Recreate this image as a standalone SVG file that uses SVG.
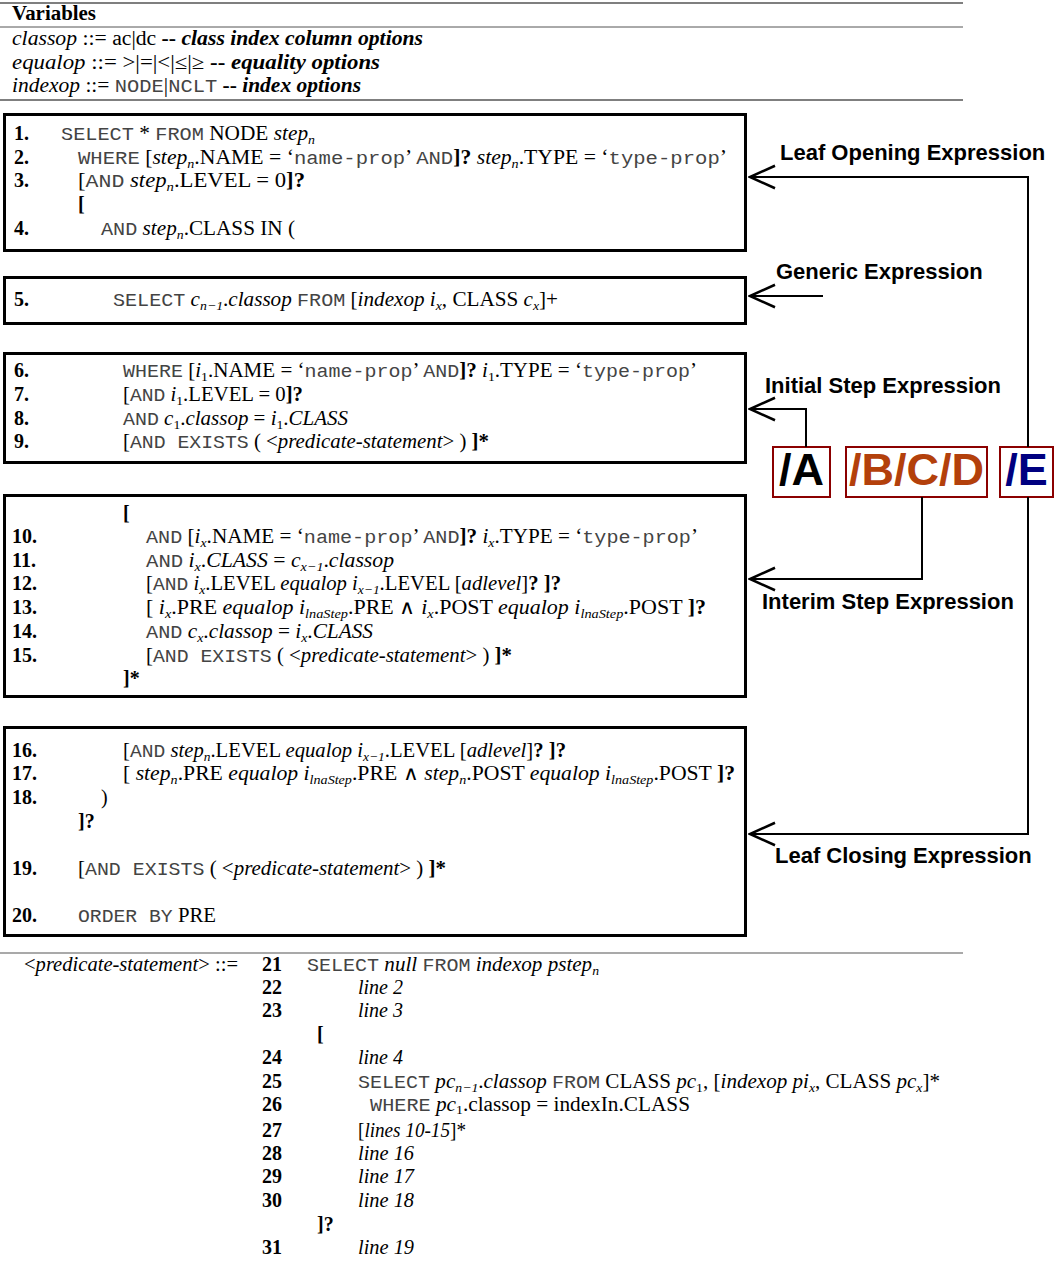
<svg xmlns="http://www.w3.org/2000/svg" width="1057" height="1261" viewBox="0 0 1057 1261">
<style>
text{font-family:"Liberation Serif","Times New Roman",serif;font-size:20px;fill:#000}
.m{font-family:"Liberation Mono","Courier New",monospace;font-size:19px;fill:#444}
.i{font-style:italic}
.b{font-weight:bold}
.sb{font-size:13px;font-style:italic}
.r{font-style:normal}
.num{font-weight:bold}
.lab{font-family:"Liberation Sans",Arial,sans-serif;font-weight:bold;font-size:22px}
.big{font-family:"Liberation Sans",Arial,sans-serif;font-weight:bold;font-size:45px}
.box{fill:#fff;stroke:#000;stroke-width:3}
.tag{fill:#fff;stroke:#8b0000;stroke-width:2}
.rule{stroke:#555;stroke-width:1.5}
.con{fill:none;stroke:#000;stroke-width:2}
</style>
<defs>
<marker id="open" markerUnits="userSpaceOnUse" markerWidth="30" markerHeight="30" viewBox="-22 -11 24 22" refX="0" refY="0" orient="auto">
<path d="M-20,-9 L0,0 L-20,9" fill="none" stroke="#000" stroke-width="2"/>
</marker>
</defs>

<g id="variables">
<line class="rule" x1="0" y1="3" x2="963" y2="3"/>
<line class="rule" x1="0" y1="27" x2="963" y2="27" style="stroke-width:1"/>
<line class="rule" x1="0" y1="100" x2="963" y2="100"/>
<text x="12" y="20" class="b" textLength="84" lengthAdjust="spacingAndGlyphs">Variables</text>
<text x="12" y="45" textLength="411" lengthAdjust="spacingAndGlyphs"><tspan class="i">classop</tspan> ::= ac|dc <tspan class="b">--</tspan> <tspan class="b i">class index column options</tspan></text>
<text x="12" y="69" textLength="368" lengthAdjust="spacingAndGlyphs"><tspan class="i">equalop</tspan> ::= &gt;|=|&lt;|≤|≥ <tspan class="b">--</tspan> <tspan class="b i">equality options</tspan></text>
<text x="12" y="92" textLength="349" lengthAdjust="spacingAndGlyphs"><tspan class="i">indexop</tspan> ::= <tspan class="m">NODE</tspan>|<tspan class="m">NCLT</tspan> <tspan class="b">--</tspan> <tspan class="b i">index options</tspan></text>
</g>

<g id="box1">
<rect class="box" x="4.5" y="114.5" width="741" height="136"/>
<text x="14" y="140" class="num">1.</text>
<text x="61" y="140" textLength="254" lengthAdjust="spacingAndGlyphs"><tspan class="m">SELECT</tspan> * <tspan class="m">FROM</tspan> NODE <tspan class="i">step</tspan><tspan class="sb" dy="4">n</tspan></text>
<text x="14" y="164" class="num">2.</text>
<text x="78" y="164" textLength="649" lengthAdjust="spacingAndGlyphs"><tspan class="m">WHERE</tspan> [<tspan class="i">step</tspan><tspan class="sb" dy="4">n</tspan><tspan dy="-4">.NAME = ‘</tspan><tspan class="m">name-prop</tspan>’ <tspan class="m">AND</tspan><tspan class="b">]?</tspan> <tspan class="i">step</tspan><tspan class="sb" dy="4">n</tspan><tspan dy="-4">.TYPE = ‘</tspan><tspan class="m">type-prop</tspan>’</text>
<text x="14" y="187" class="num">3.</text>
<text x="78" y="187" textLength="227" lengthAdjust="spacingAndGlyphs">[<tspan class="m">AND</tspan> <tspan class="i">step</tspan><tspan class="sb" dy="4">n</tspan><tspan dy="-4">.LEVEL = 0</tspan><tspan class="b">]?</tspan></text>
<text x="78" y="211" class="b">[</text>
<text x="14" y="235" class="num">4.</text>
<text x="101" y="235" textLength="194" lengthAdjust="spacingAndGlyphs"><tspan class="m">AND</tspan> <tspan class="i">step</tspan><tspan class="sb" dy="4">n</tspan><tspan dy="-4">.CLASS IN (</tspan></text>
</g>

<g id="box2">
<rect class="box" x="4.5" y="277.5" width="741" height="46"/>
<text x="14" y="306" class="num">5.</text>
<text x="113" y="306" textLength="445" lengthAdjust="spacingAndGlyphs"><tspan class="m">SELECT</tspan> <tspan class="i">c</tspan><tspan class="sb" dy="4">n−1</tspan><tspan dy="-4">.</tspan><tspan class="i">classop</tspan> <tspan class="m">FROM</tspan> [<tspan class="i">indexop i</tspan><tspan class="sb" dy="4">x</tspan><tspan dy="-4">, CLASS </tspan><tspan class="i">c</tspan><tspan class="sb" dy="4">x</tspan><tspan dy="-4">]+</tspan></text>
</g>

<g id="box3">
<rect class="box" x="4.5" y="353.5" width="741" height="109"/>
<text x="14" y="377" class="num">6.</text>
<text x="123" y="377" textLength="574" lengthAdjust="spacingAndGlyphs"><tspan class="m">WHERE</tspan> [<tspan class="i">i</tspan><tspan class="sb r" dy="4">1</tspan><tspan dy="-4">.NAME = ‘</tspan><tspan class="m">name-prop</tspan>’ <tspan class="m">AND</tspan><tspan class="b">]?</tspan> <tspan class="i">i</tspan><tspan class="sb r" dy="4">1</tspan><tspan dy="-4">.TYPE = ‘</tspan><tspan class="m">type-prop</tspan>’</text>
<text x="14" y="401" class="num">7.</text>
<text x="123" y="401" textLength="180" lengthAdjust="spacingAndGlyphs">[<tspan class="m">AND</tspan> <tspan class="i">i</tspan><tspan class="sb r" dy="4">1</tspan><tspan dy="-4">.LEVEL = 0</tspan><tspan class="b">]?</tspan></text>
<text x="14" y="425" class="num">8.</text>
<text x="123" y="425" textLength="225" lengthAdjust="spacingAndGlyphs"><tspan class="m">AND</tspan> <tspan class="i">c</tspan><tspan class="sb r" dy="4">1</tspan><tspan dy="-4">.</tspan><tspan class="i">classop</tspan> = <tspan class="i">i</tspan><tspan class="sb r" dy="4">1</tspan><tspan dy="-4">.</tspan><tspan class="i">CLASS</tspan></text>
<text x="14" y="448" class="num">9.</text>
<text x="123" y="448" textLength="366" lengthAdjust="spacingAndGlyphs">[<tspan class="m">AND EXISTS</tspan> ( &lt;<tspan class="i">predicate-statement</tspan>&gt; ) <tspan class="b">]*</tspan></text>
</g>

<g id="box4">
<rect class="box" x="4.5" y="495.5" width="741" height="201"/>
<text x="123" y="520" class="b">[</text>
<text x="12" y="543" class="num">10.</text>
<text x="146" y="543" textLength="552" lengthAdjust="spacingAndGlyphs"><tspan class="m">AND</tspan> [<tspan class="i">i</tspan><tspan class="sb" dy="4">x</tspan><tspan dy="-4">.NAME = ‘</tspan><tspan class="m">name-prop</tspan>’ <tspan class="m">AND</tspan><tspan class="b">]?</tspan> <tspan class="i">i</tspan><tspan class="sb" dy="4">x</tspan><tspan dy="-4">.TYPE = ‘</tspan><tspan class="m">type-prop</tspan>’</text>
<text x="12" y="567" class="num">11.</text>
<text x="146" y="567" textLength="248" lengthAdjust="spacingAndGlyphs"><tspan class="m">AND</tspan> <tspan class="i">i</tspan><tspan class="sb" dy="4">x</tspan><tspan dy="-4">.</tspan><tspan class="i">CLASS</tspan> = <tspan class="i">c</tspan><tspan class="sb" dy="4">x−1</tspan><tspan dy="-4">.</tspan><tspan class="i">classop</tspan></text>
<text x="12" y="590" class="num">12.</text>
<text x="146" y="590" textLength="415" lengthAdjust="spacingAndGlyphs">[<tspan class="m">AND</tspan> <tspan class="i">i</tspan><tspan class="sb" dy="4">x</tspan><tspan dy="-4">.LEVEL </tspan><tspan class="i">equalop</tspan> <tspan class="i">i</tspan><tspan class="sb" dy="4">x−1</tspan><tspan dy="-4">.LEVEL [</tspan><tspan class="i">adlevel</tspan>]<tspan class="b">? ]?</tspan></text>
<text x="12" y="614" class="num">13.</text>
<text x="146" y="614" textLength="560" lengthAdjust="spacingAndGlyphs">[ <tspan class="i">i</tspan><tspan class="sb" dy="4">x</tspan><tspan dy="-4">.PRE </tspan><tspan class="i">equalop</tspan> <tspan class="i">i</tspan><tspan class="sb" dy="4">lnaStep</tspan><tspan dy="-4">.PRE ∧ </tspan><tspan class="i">i</tspan><tspan class="sb" dy="4">x</tspan><tspan dy="-4">.POST </tspan><tspan class="i">equalop</tspan> <tspan class="i">i</tspan><tspan class="sb" dy="4">lnaStep</tspan><tspan dy="-4">.POST </tspan><tspan class="b">]?</tspan></text>
<text x="12" y="638" class="num">14.</text>
<text x="146" y="638" textLength="227" lengthAdjust="spacingAndGlyphs"><tspan class="m">AND</tspan> <tspan class="i">c</tspan><tspan class="sb" dy="4">x</tspan><tspan dy="-4">.</tspan><tspan class="i">classop</tspan> = <tspan class="i">i</tspan><tspan class="sb" dy="4">x</tspan><tspan dy="-4">.</tspan><tspan class="i">CLASS</tspan></text>
<text x="12" y="662" class="num">15.</text>
<text x="146" y="662" textLength="366" lengthAdjust="spacingAndGlyphs">[<tspan class="m">AND EXISTS</tspan> ( &lt;<tspan class="i">predicate-statement</tspan>&gt; ) <tspan class="b">]*</tspan></text>
<text x="123" y="685" class="b">]*</text>
</g>

<g id="box5">
<rect class="box" x="4.5" y="727.5" width="741" height="208"/>
<text x="12" y="757" class="num">16.</text>
<text x="123" y="757" textLength="443" lengthAdjust="spacingAndGlyphs">[<tspan class="m">AND</tspan> <tspan class="i">step</tspan><tspan class="sb" dy="4">n</tspan><tspan dy="-4">.LEVEL </tspan><tspan class="i">equalop</tspan> <tspan class="i">i</tspan><tspan class="sb" dy="4">x−1</tspan><tspan dy="-4">.LEVEL [</tspan><tspan class="i">adlevel</tspan>]<tspan class="b">? ]?</tspan></text>
<text x="12" y="780" class="num">17.</text>
<text x="123" y="780" textLength="612" lengthAdjust="spacingAndGlyphs">[ <tspan class="i">step</tspan><tspan class="sb" dy="4">n</tspan><tspan dy="-4">.PRE </tspan><tspan class="i">equalop</tspan> <tspan class="i">i</tspan><tspan class="sb" dy="4">lnaStep</tspan><tspan dy="-4">.PRE ∧ </tspan><tspan class="i">step</tspan><tspan class="sb" dy="4">n</tspan><tspan dy="-4">.POST </tspan><tspan class="i">equalop</tspan> <tspan class="i">i</tspan><tspan class="sb" dy="4">lnaStep</tspan><tspan dy="-4">.POST </tspan><tspan class="b">]?</tspan></text>
<text x="12" y="804" class="num">18.</text>
<text x="101" y="804">)</text>
<text x="78" y="828" class="b">]?</text>
<text x="12" y="875" class="num">19.</text>
<text x="78" y="875" textLength="368" lengthAdjust="spacingAndGlyphs">[<tspan class="m">AND EXISTS</tspan> ( &lt;<tspan class="i">predicate-statement</tspan>&gt; ) <tspan class="b">]*</tspan></text>
<text x="12" y="922" class="num">20.</text>
<text x="78" y="922" textLength="138" lengthAdjust="spacingAndGlyphs"><tspan class="m">ORDER BY</tspan> PRE</text>
</g>

<g id="tagA">
<rect class="tag" x="773" y="447" width="57" height="50"/>
<text x="801.5" y="485" class="big" text-anchor="middle">/A</text>
</g>
<g id="tagBCD">
<rect class="tag" x="846" y="447" width="141" height="50"/>
<text x="916.5" y="485" class="big" text-anchor="middle" style="fill:#b3400b">/B/C/D</text>
</g>
<g id="tagE">
<rect class="tag" x="1000" y="447" width="53" height="50"/>
<text x="1026.5" y="485" class="big" text-anchor="middle" style="fill:#000080">/E</text>
</g>

<g id="labels">
<text x="780" y="160" class="lab">Leaf Opening Expression</text>
<text x="776" y="279" class="lab">Generic Expression</text>
<text x="765" y="393" class="lab">Initial Step Expression</text>
<text x="762" y="609" class="lab">Interim Step Expression</text>
<text x="775" y="863" class="lab">Leaf Closing Expression</text>
</g>

<g id="connectors">
<path class="con" d="M1028,447 V177 H750" marker-end="url(#open)"/>
<path class="con" d="M823,296 H750" marker-end="url(#open)"/>
<path class="con" d="M806,447 V409 H750" marker-end="url(#open)"/>
<path class="con" d="M922,497 V579 H750" marker-end="url(#open)"/>
<path class="con" d="M1028,497 V834 H750" marker-end="url(#open)"/>
</g>

<g id="predicate">
<line class="rule" x1="0" y1="953" x2="963" y2="953" style="stroke-width:1.2"/>
<text x="24" y="971" textLength="214" lengthAdjust="spacingAndGlyphs">&lt;<tspan class="i">predicate-statement</tspan>&gt; ::=</text>
<text x="262" y="971" class="num">21</text>
<text x="307" y="971" textLength="292" lengthAdjust="spacingAndGlyphs"><tspan class="m">SELECT</tspan> <tspan class="i">null</tspan> <tspan class="m">FROM</tspan> <tspan class="i">indexop pstep</tspan><tspan class="sb" dy="4">n</tspan></text>
<text x="262" y="994" class="num">22</text>
<text x="358" y="994" class="i" textLength="45" lengthAdjust="spacingAndGlyphs">line 2</text>
<text x="262" y="1017" class="num">23</text>
<text x="358" y="1017" class="i" textLength="45" lengthAdjust="spacingAndGlyphs">line 3</text>
<text x="317" y="1041" class="b">[</text>
<text x="262" y="1064" class="num">24</text>
<text x="358" y="1064" class="i" textLength="45" lengthAdjust="spacingAndGlyphs">line 4</text>
<text x="262" y="1088" class="num">25</text>
<text x="358" y="1088" textLength="582" lengthAdjust="spacingAndGlyphs"><tspan class="m">SELECT</tspan> <tspan class="i">pc</tspan><tspan class="sb" dy="4">n−1</tspan><tspan dy="-4">.</tspan><tspan class="i">classop</tspan> <tspan class="m">FROM</tspan> CLASS <tspan class="i">pc</tspan><tspan class="sb r" dy="4">1</tspan><tspan dy="-4">, [</tspan><tspan class="i">indexop pi</tspan><tspan class="sb" dy="4">x</tspan><tspan dy="-4">, CLASS </tspan><tspan class="i">pc</tspan><tspan class="sb" dy="4">x</tspan><tspan dy="-4">]*</tspan></text>
<text x="262" y="1111" class="num">26</text>
<text x="370" y="1111" textLength="320" lengthAdjust="spacingAndGlyphs"><tspan class="m">WHERE</tspan> <tspan class="i">pc</tspan><tspan class="sb r" dy="3">1</tspan><tspan dy="-3">.classop = indexIn.CLASS</tspan></text>
<text x="262" y="1137" class="num">27</text>
<text x="358" y="1137" textLength="108" lengthAdjust="spacingAndGlyphs">[<tspan class="i">lines 10-15</tspan>]*</text>
<text x="262" y="1160" class="num">28</text>
<text x="358" y="1160" class="i" textLength="56" lengthAdjust="spacingAndGlyphs">line 16</text>
<text x="262" y="1183" class="num">29</text>
<text x="358" y="1183" class="i" textLength="56" lengthAdjust="spacingAndGlyphs">line 17</text>
<text x="262" y="1207" class="num">30</text>
<text x="358" y="1207" class="i" textLength="56" lengthAdjust="spacingAndGlyphs">line 18</text>
<text x="317" y="1231" class="b">]?</text>
<text x="262" y="1254" class="num">31</text>
<text x="358" y="1254" class="i" textLength="56" lengthAdjust="spacingAndGlyphs">line 19</text>
</g>
</svg>
